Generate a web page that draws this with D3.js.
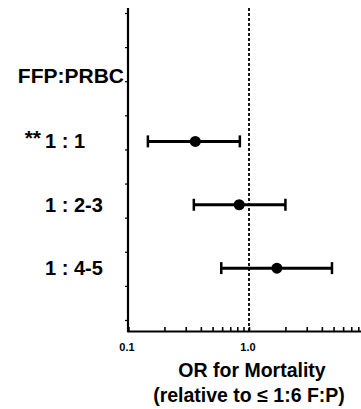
<!DOCTYPE html>
<html>
<head>
<meta charset="utf-8">
<script src="https://cdn.jsdelivr.net/npm/d3@7"></script>
<style>
  body { margin: 0; background: #fff; }
  text { font-family: "Liberation Sans", Arial, sans-serif; font-weight: bold; fill: #000; }
</style>
</head>
<body>
<div id="chart"></div>
<script>
// data
const groups = ["1 : 1", "1 : 2-3", "1 : 4-5"];
const stars = ["**", "", ""];
const oddsRatio = [0.36, 0.83, 1.70];
const ciLow = [0.146, 0.35, 0.59];
const ciHigh = [0.84, 2.0, 4.85];
const xTickValues = [0.1, 1];
const xTickLabels = ["0.1", "1.0"];

const width = 361;
const height = 409;
const margin = { top: 8, left: 128, bottom: 78 };

const svg = d3.select("div#chart")
  .append("svg")
  .attr("width", width)
  .attr("height", height);

const plotH = height - margin.top - margin.bottom;

const x = d3.scaleLog().domain([0.1, 10]).range([0, 242]);
const y = d3.scalePoint()
  .domain(["head"].concat(groups).concat(["foot"]))
  .range([70, 260 + 63.5]);

const g = svg.append("g")
  .attr("transform", `translate(${margin.left},${margin.top})`);

// reference line at OR = 1
g.append("line")
  .attr("x1", x(1)).attr("x2", x(1))
  .attr("y1", 0).attr("y2", plotH)
  .attr("stroke", "#000")
  .attr("stroke-width", 1.8)
  .attr("stroke-dasharray", "3,2");

// x axis (log, ticks inward)
const allTicks = [0.1, 0.2, 0.3, 0.4, 0.5, 0.6, 0.7, 0.8, 0.9, 1, 2, 3, 4, 5, 6, 7, 8, 9, 10];
const xAxis = d3.axisBottom(x).tickValues(allTicks).tickSize(-4).tickFormat("");
const xAxisGroup = g.append("g")
  .attr("transform", `translate(0,${plotH})`)
  .call(xAxis);
xAxisGroup.select(".domain").attr("stroke-width", 2.2);
xAxisGroup.selectAll(".tick line").attr("stroke-width", 1.6);

g.selectAll("text.xlab")
  .data(xTickValues)
  .enter()
  .append("text")
  .attr("class", "xlab")
  .attr("x", (d) => x(d) - 1)
  .attr("y", plotH + 20)
  .attr("text-anchor", "middle")
  .style("font-size", "11px")
  .text((d, i) => xTickLabels[i]);

// y axis line with small ticks
const yTick = d3.scaleLinear().domain([0, 9]).range([plotH - 11, 5]);
const yAxis = d3.axisLeft(yTick).ticks(9).tickSize(3).tickFormat("");
const yAxisGroup = g.append("g").call(yAxis);
yAxisGroup.select(".domain").remove();
yAxisGroup.selectAll(".tick line").attr("stroke-width", 1.2);
g.append("line")
  .attr("x1", 0).attr("x2", 0)
  .attr("y1", 0).attr("y2", plotH + 1)
  .attr("stroke", "#000")
  .attr("stroke-width", 2.2);

// error bars
const rows = g.selectAll("g.row")
  .data(groups)
  .enter()
  .append("g")
  .attr("class", "row")
  .attr("transform", (d) => `translate(0,${y(d)})`);

rows.append("line")
  .attr("x1", (d, i) => x(ciLow[i]))
  .attr("x2", (d, i) => x(ciHigh[i]))
  .attr("stroke", "#000")
  .attr("stroke-width", 3);

rows.selectAll("line.cap")
  .data((d, i) => [ciLow[i], ciHigh[i]])
  .enter()
  .append("line")
  .attr("class", "cap")
  .attr("x1", (d) => x(d)).attr("x2", (d) => x(d))
  .attr("y1", -6).attr("y2", 6)
  .attr("stroke", "#000")
  .attr("stroke-width", 2.5);

rows.append("circle")
  .attr("cx", (d, i) => x(oddsRatio[i]))
  .attr("r", 5.5)
  .attr("fill", "#000");

// category labels
svg.selectAll("text.cat")
  .data(groups)
  .enter()
  .append("text")
  .attr("class", "cat")
  .attr("x", 45)
  .attr("y", (d) => margin.top + y(d) + 7)
  .style("font-size", "20px")
  .text((d) => d);

svg.selectAll("text.star")
  .data(stars)
  .enter()
  .append("text")
  .attr("class", "star")
  .attr("x", 41)
  .attr("y", (d, i) => margin.top + y(groups[i]) + 4)
  .attr("text-anchor", "end")
  .style("font-size", "21px")
  .text((d) => d);

svg.append("text")
  .attr("x", 124)
  .attr("y", 83)
  .attr("text-anchor", "end")
  .style("font-size", "21px")
  .text("FFP:PRBC");

// axis titles
svg.append("text")
  .attr("x", 252)
  .attr("y", 377)
  .attr("text-anchor", "middle")
  .style("font-size", "19.5px")
  .text("OR for Mortality");

svg.append("text")
  .attr("x", 249)
  .attr("y", 402)
  .attr("text-anchor", "middle")
  .style("font-size", "19.5px")
  .text("(relative to \u2264 1:6 F:P)");
</script>
</body>
</html>
